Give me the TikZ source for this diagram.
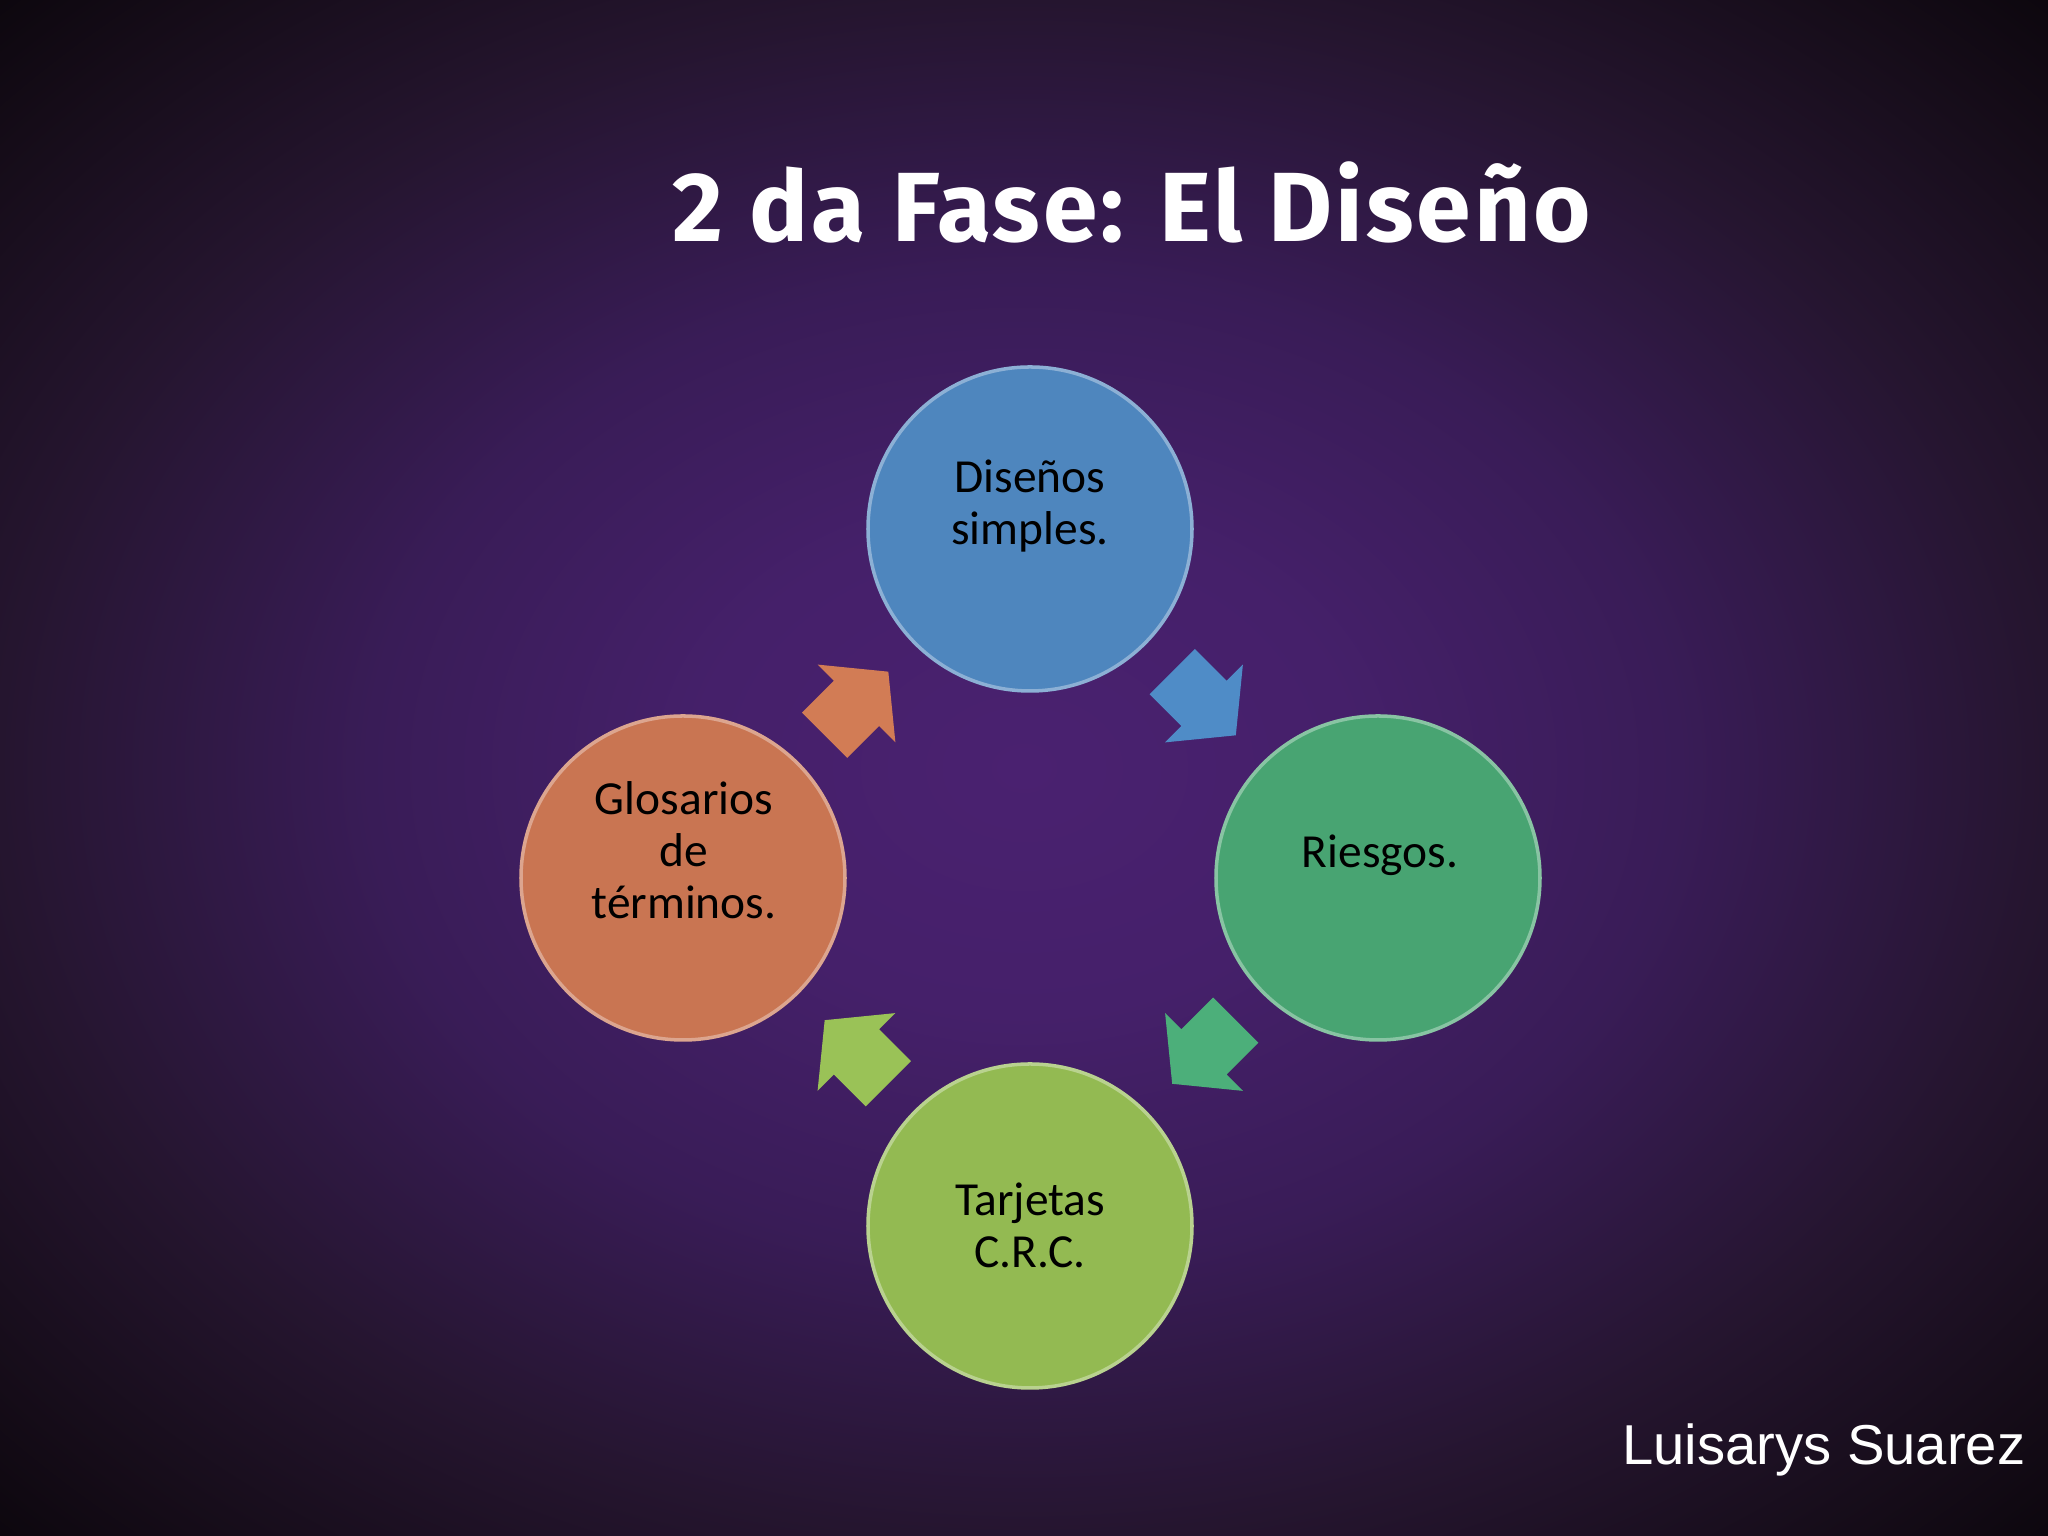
\documentclass[tikz,border=0pt]{standalone}
\usepackage{fontspec}
\setmainfont{Carlito}
\newfontfamily\titlefont[LetterSpace=3]{Fira Sans}
\newfontfamily\authfont{Liberation Sans}
\usetikzlibrary{calc}
\definecolor{bgin}{HTML}{4A2170}
\definecolor{bgin2}{HTML}{45206A}
\definecolor{bgmid}{HTML}{391C57}
\definecolor{bgout}{HTML}{25152F}
\definecolor{bgdark}{HTML}{150C18}
\definecolor{bgcorner}{HTML}{0B060C}
\definecolor{cblue}{HTML}{4E86BE}
\definecolor{cgreen}{HTML}{48A472}
\definecolor{corange}{HTML}{C97552}
\definecolor{clime}{HTML}{93BA52}
\definecolor{ablue}{HTML}{4F8CC7}
\definecolor{agreen}{HTML}{4CAF7A}
\definecolor{aorange}{HTML}{D27C55}
\definecolor{alime}{HTML}{9AC257}
\pgfdeclareradialshading{slidebg}{\pgfpoint{0bp}{0bp}}{color(0bp)=(bgin); color(8bp)=(bgin2); color(16bp)=(bgmid); color(25bp)=(bgout); color(32bp)=(bgdark); color(36bp)=(bgcorner); color(50bp)=(bgcorner)}
\tikzset{bubble/.style={circle,minimum size=3.24cm,inner sep=0,line width=1pt},
  txt/.style={align=center,font=\fontsize{13.5}{14.8}\selectfont,text=black},
  pics/blkarrow/.style={code={\fill[#1] (-0.45,-0.32) -- (0,-0.32) -- (0,-0.55) -- (0.45,0) -- (0,0.55) -- (0,0.32) -- (-0.45,0.32) -- cycle;}}}

\begin{document}
\begin{tikzpicture}
    \useasboundingbox (0,0) rectangle (20.48,15.36);
    \shade[shading=slidebg] (0,0) rectangle (20.48,15.36);

    \node[text=white,font=\titlefont\bfseries\fontsize{28}{32}\selectfont,anchor=base] (ttl) at (11.32,12.94) {2 da Fase: El Diseño};

    \node[bubble,fill=cblue,draw=cblue!65!white] (dis) at (10.30,10.07) {};
    \node[bubble,fill=cgreen,draw=cgreen!65!white] (rie) at (13.78,6.58) {};
    \node[bubble,fill=clime,draw=clime!65!white] (tar) at (10.30,3.10) {};
    \node[bubble,fill=corange,draw=corange!65!white] (glo) at (6.83,6.58) {};

    \node[txt] (distxt) at (10.30,10.30) {Diseños\\simples.};
    \node[txt] (rietxt) at (13.80,6.81) {Riesgos.};
    \node[txt] (tartxt) at (10.30,3.11) {Tarjetas\\C.R.C.};
    \node[txt] (glotxt) at (6.84,6.86) {Glosarios\\de\\términos.};

    \pic[rotate=-45] at ($(dis)!0.5!(rie)$) {blkarrow=ablue};
    \pic[rotate=-135] at ($(rie)!0.5!(tar)$) {blkarrow=agreen};
    \pic[rotate=135] at ($(tar)!0.5!(glo)$) {blkarrow=alime};
    \pic[rotate=45] at ($(glo)!0.5!(dis)$) {blkarrow=aorange};

    \node[text=white,font=\authfont\fontsize{16}{19}\selectfont,anchor=base east,inner sep=0] (auth) at (20.26,0.71) {Luisarys Suarez};
\end{tikzpicture}
\end{document}
